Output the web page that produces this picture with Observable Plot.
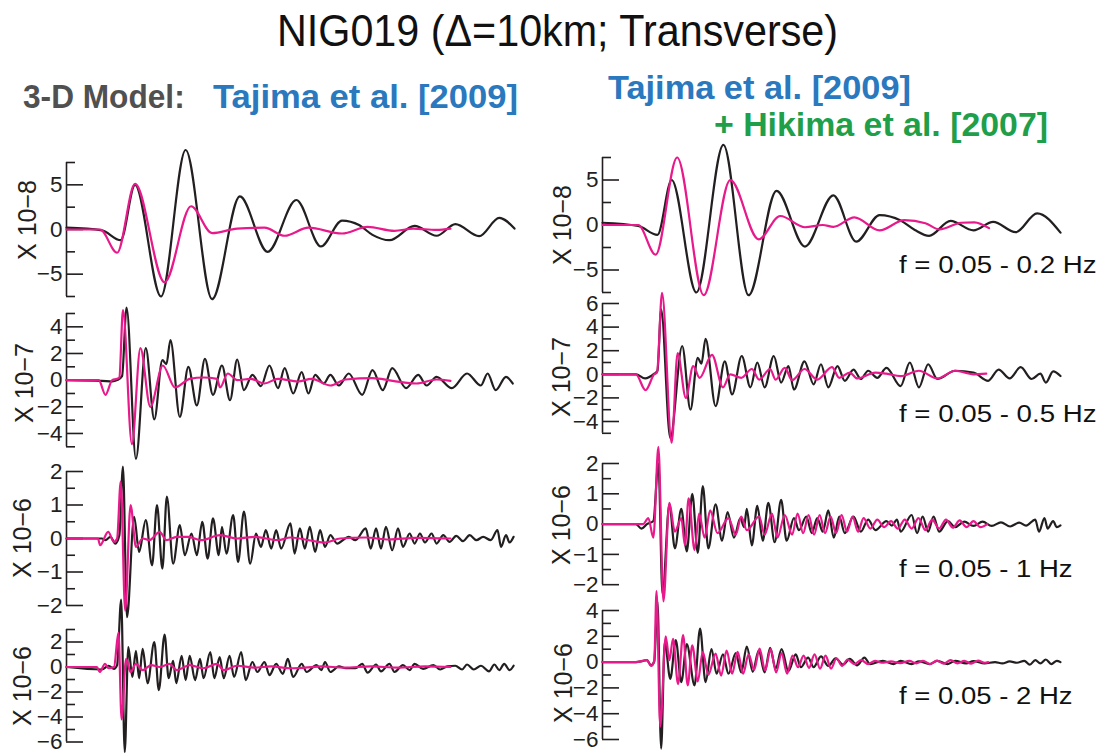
<!DOCTYPE html>
<html>
<head>
<meta charset="utf-8">
<script src="https://cdn.jsdelivr.net/npm/d3@7"></script>
<script src="https://cdn.jsdelivr.net/npm/@observablehq/plot@0.6"></script>
<style>
  html, body { margin: 0; padding: 0; background: #fff; }
  #page { position: relative; width: 1106px; height: 753px; overflow: hidden; background: #fff;
          font-family: "Liberation Sans", Arial, Helvetica, sans-serif; }
  #page svg { position: absolute; }
  .t { position: absolute; white-space: nowrap; line-height: 1; transform-origin: 0 0; }
  .yl { position: absolute; white-space: nowrap; line-height: 1; color: #231f20; }
</style>
</head>
<body>
<div id="page"></div>
<script>
// ---------------- text ----------------
const title = "NIG019 (\u0394=10km; Transverse)";
const modelLabel = "3-D Model:";
const refLeft = "Tajima et al. [2009]";
const refRight1 = "Tajima et al. [2009]";
const refRight2 = "+ Hikima et al. [2007]";
const bandLabels = ["f = 0.05 - 0.2 Hz", "f = 0.05 - 0.5 Hz", "f = 0.05 - 1 Hz", "f = 0.05 - 2 Hz"];
const unitLabels = ["X 10\u22128", "X 10\u22127", "X 10\u22126", "X 10\u22126"];

// ---------------- y domains and ticks (per row) ----------------
const domL = [[-7.5, 7.5], [-5, 5], [-2, 2], [-6, 3]];
const domR = [[-7.5, 7.5], [-5, 6], [-2, 2], [-6, 4]];
const majorL = [[-5, 0, 5], [-4, -2, 0, 2, 4], [-2, -1, 0, 1, 2], [-6, -4, -2, 0, 2]];
const minorL = [[-7.5, -2.5, 2.5, 7.5], [-5, -3, -1, 1, 3, 5], [-1.5, -0.5, 0.5, 1.5], [-5, -3, -1, 1, 3]];
const majorR = [[-5, 0, 5], [-4, -2, 0, 2, 4, 6], [-2, -1, 0, 1, 2], [-6, -4, -2, 0, 2, 4]];
const minorR = [[-7.5, -2.5, 2.5, 7.5], [-5, -3, -1, 1, 3, 5], [-1.5, -0.5, 0.5, 1.5], [-5, -3, -1, 1, 3]];

// ---------------- waveforms [time (s), amplitude] ----------------
// Left column: 3-D model (Tajima et al. 2009)
const L1_black = [[0,0.2],[7.9,-0.1],[12.1,-1.2],[15.3,5.0],[21.1,-7.5],[26.6,8.9],[32.5,-7.8],[38.7,3.7],[44.9,-2.5],[51.3,3.3],[56.8,-1.9],[61.5,1.0],[65.3,0.5],[68.3,-0.6],[72.1,-1.2],[77.7,0.4],[82.6,-0.7],[86.8,0.6],[92.1,-0.75],[96.6,1.3],[100,0.1]];
const L1_pink = [[0,0],[7.5,0],[11.3,-2.6],[15.3,5.1],[21.9,-5.9],[27.8,2.6],[32.5,-0.4],[38.1,0.1],[44.2,0.2],[48.7,-0.7],[54.0,0.2],[61.5,-0.45],[67.2,0.3],[73.2,-0.15],[77.4,0.1],[82.6,-0.05],[85.7,0.1]];

const L2_black = [[0,0],[7.9,-0.05],[10.2,-0.1],[11.3,0],[12.4,0.3],[13.4,5.45],[15.5,-5.9],[17.7,2.4],[19.6,-2.95],[21.4,1.5],[22.3,1.2],[23.2,3.0],[25.3,-2.75],[27.2,1.0],[29.1,-1.9],[30.9,1.6],[32.7,-1.1],[34.7,1.1],[36.5,-1.5],[38.1,1.55],[39.6,-0.75],[41.5,0.4],[43.4,-0.45],[45.3,1.1],[47.2,-0.6],[48.7,0.9],[50.6,-1.0],[52.5,0.6],[54.0,-1.0],[55.5,0.4],[57.4,-0.25],[58.9,0.4],[60.8,-0.4],[63.0,0.5],[66.0,-1.1],[68.3,0.75],[70.6,-0.75],[72.7,0.9],[75.8,-0.6],[78.5,0.4],[80.4,-0.4],[82.6,0.25],[86.0,-0.6],[89.4,0.5],[92.5,-0.4],[94.0,0.5],[95.8,-0.75],[98.1,0.25],[99.6,-0.25]];
const L2_pink = [[0,0],[7.2,0],[8.7,-1.1],[10.2,0],[11.3,0.1],[11.8,0.2],[12.6,5.25],[14.6,-4.8],[16.5,2.4],[18.7,-2.0],[21.5,1.1],[24.2,-0.55],[27.5,0.1],[30.6,0.2],[33.6,0.1],[34.3,-0.55],[36.0,0.5],[38.1,0.0],[41.1,0.1],[44.2,-0.25],[47.2,0.1],[51.7,-0.1],[54.7,0.1],[58.9,-0.4],[62.3,0.05],[68.3,0.15],[72.8,-0.05],[78.1,-0.25],[82.6,0.05],[85.7,-0.05]];

const L3_black = [[0,0],[7.9,0],[8.7,-0.05],[9.8,0.05],[10.9,-0.15],[11.8,0.1],[12.6,2.15],[13.5,-2.35],[15.1,0.65],[16.2,-0.4],[17.7,0.55],[19.1,-0.8],[20.2,1.0],[21.4,-0.9],[22.4,1.25],[23.8,-0.75],[25.3,0.4],[26.4,-0.5],[27.9,0.15],[29.1,-0.5],[30.3,0.5],[31.5,-0.6],[32.7,0.6],[34.0,-0.5],[34.7,0.35],[35.7,-0.45],[37.2,0.7],[38.3,-0.7],[39.6,0.8],[41.0,-0.75],[42.3,0.15],[43.4,-0.25],[44.5,0.25],[45.7,-0.3],[46.8,0.25],[47.9,-0.3],[50.0,0.45],[50.9,-0.45],[52.1,0.3],[53.2,-0.3],[54.3,0.35],[55.5,-0.4],[56.6,0.25],[57.7,-0.25],[58.9,0.1],[60.4,-0.15],[63.0,0.05],[64.5,-0.05],[66.8,0.3],[67.9,-0.3],[69.1,0.3],[70.2,-0.3],[71.3,0.35],[72.7,-0.35],[74.0,0.3],[75.1,-0.25],[76.6,0.15],[77.7,-0.15],[78.9,0.15],[80.0,-0.12],[81.5,0.15],[82.6,-0.15],[84.1,0.1],[85.5,-0.1],[87.0,0.08],[88.5,-0.08],[90.0,0.1],[91.5,-0.05],[93.0,0.05],[94.7,-0.05],[96.2,0.25],[97.0,-0.25],[98.1,0.1],[98.9,-0.12],[99.8,0.05]];
const L3_pink = [[0,0],[7.0,0],[7.5,-0.2],[9.3,0.2],[10.6,-0.1],[11.3,0],[12.1,1.7],[13.1,-2.15],[14.3,1.0],[15.5,-0.25],[17.0,0.0],[18.5,-0.05],[20.8,0.2],[22.3,-0.05],[24.6,0.05],[27.2,0.05],[30.0,-0.05],[34.3,0.1],[38.1,0.0],[42.0,0.05],[47.2,-0.05],[50.0,0.03],[57.7,-0.12],[61.1,0.0],[66.8,0.03],[72.0,-0.03],[78.0,0.02],[85.7,0.0]];

const L4_black = [[0,0],[7.9,-0.2],[9.4,0.1],[10.6,-0.15],[11.3,0.15],[12.2,5.4],[13.0,-6.8],[13.8,1.6],[14.7,-0.8],[15.5,1.3],[16.2,-0.9],[17.0,1.45],[18.1,-1.3],[19.6,2.0],[20.6,-1.85],[21.9,2.6],[22.8,-0.9],[23.8,0.5],[24.5,-1.3],[25.7,0.9],[26.6,-1.05],[27.5,0.9],[28.7,-1.05],[29.8,0.65],[30.6,-0.9],[32.1,1.2],[33.0,-0.9],[34.2,0.8],[35.1,-0.9],[36.4,0.9],[37.4,-0.8],[39.0,1.2],[40.0,-1.05],[41.5,0.4],[42.6,-0.4],[44.2,0.4],[45.3,-0.65],[46.8,0.25],[48.3,-0.55],[49.4,0.65],[50.6,-0.8],[52.5,0.25],[53.6,-0.4],[55.8,0.15],[56.9,-0.25],[57.7,0.4],[58.9,-0.4],[60.8,0.05],[62.3,-0.1],[64.5,-0.1],[66.0,0.25],[67.2,-0.45],[69.1,0.2],[70.2,-0.35],[72.1,0.25],[73.2,-0.4],[75.1,0.15],[76.6,-0.25],[77.7,0.25],[79.6,-0.15],[81.9,0.15],[83.4,-0.2],[85.0,0.05],[86.8,0.1],[88.3,-0.2],[89.4,0.2],[90.9,-0.2],[92.5,0.1],[94.3,-0.35],[95.5,0.2],[96.6,-0.25],[97.7,0.25],[98.9,-0.25],[99.8,0.1]];
const L4_pink = [[0,0],[6.8,0],[7.4,-0.4],[8.6,0.25],[9.4,-0.1],[10.6,0.0],[11.6,2.75],[12.3,-4.2],[13.3,0.65],[14.3,-0.4],[15.5,0.25],[17.0,-0.25],[18.9,0.15],[20.8,0.0],[23.0,0.25],[24.6,-0.25],[27.5,0.15],[30.6,-0.1],[33.6,0.25],[35.1,-0.25],[38.1,0.1],[41.9,-0.05],[45.7,0.05],[50.0,-0.1],[53.2,-0.05],[57.0,0.05],[62.0,-0.05],[68.0,0.05],[74.0,-0.05],[80.0,0.05],[85.7,0.0]];

// Right column: Tajima et al. 2009 + Hikima et al. 2007
const R1_black = [[0,0.25],[7.8,-0.1],[12.0,-1.1],[15.1,5.0],[20.5,-7.5],[26.4,8.9],[31.9,-7.8],[38.0,3.8],[44.2,-2.4],[50.4,3.3],[55.4,-1.85],[60.5,1.1],[65.1,0.5],[68.2,-0.55],[71.3,-1.2],[76.0,0.45],[81.0,-0.6],[85.3,0.35],[90.2,-0.8],[94.9,1.3],[100,-0.85]];
const R1_pink = [[0,0],[7.8,0],[11.6,-3.3],[16.3,7.5],[22.1,-7.8],[27.9,5.0],[34.1,-1.6],[38.8,1.0],[44.2,-0.25],[48.1,0.0],[50.4,-0.2],[55.0,0.85],[60.5,-0.6],[65.9,0.55],[70.5,0.2],[73.6,-0.5],[78.3,0.25],[81.2,0.3],[84.4,-0.35]];

const R2_black = [[0,0],[7.3,0],[9.3,-0.35],[11.3,0.05],[12.0,0.3],[12.8,5.5],[14.8,-5.4],[17.4,2.4],[19.2,-3.0],[20.8,1.4],[21.6,0.9],[22.5,3.0],[24.7,-2.7],[26.7,1.1],[28.3,-1.7],[30.4,1.55],[32.3,-1.1],[33.8,1.0],[35.4,-1.1],[37.4,1.55],[39.0,-0.7],[40.6,0.7],[41.8,-1.3],[44.1,1.1],[46.1,-0.85],[47.7,0.85],[49.3,-1.1],[51.3,0.7],[52.9,-0.55],[54.8,0.4],[56.4,-0.4],[58.0,0.3],[60.0,-0.3],[62.0,0.55],[65.1,-1.0],[67.1,1.0],[69.1,-1.1],[71.1,0.85],[73.1,-0.4],[77.0,0.3],[81.0,0.15],[84.2,-0.55],[86.5,0.4],[88.9,-0.35],[91.3,0.6],[93.7,-0.4],[95.6,0.05],[96.8,-0.7],[98.4,0.25],[100,-0.15]];
const R2_pink = [[0,0],[7.3,0],[9.4,-1.35],[11.3,0],[11.9,0.15],[13.0,6.9],[15.1,-5.8],[16.4,1.8],[18.2,-2.0],[19.8,0.7],[21.2,-0.3],[23.9,1.65],[26.3,-1.1],[27.9,0.0],[30.3,-0.3],[32.6,0.45],[34.2,-0.45],[36.6,0.45],[37.8,-0.45],[39.8,0.55],[41.4,-0.5],[44.1,0.45],[46.9,-0.45],[50.1,0.6],[51.7,-0.3],[54.0,0.15],[55.6,-0.35],[59.6,0.15],[62.0,0.05],[65.1,-0.15],[69.1,0.3],[73.1,-0.35],[77.0,0.3],[81.0,0.0],[83.8,0.05]];

const R3_black = [[0,0],[7.3,0],[8.5,-0.15],[9.7,0],[11.1,0.1],[12.2,2.0],[13.1,-2.3],[14.6,0.65],[15.8,-0.8],[17.2,0.5],[18.4,-0.9],[19.6,1.0],[20.8,-0.95],[21.9,1.25],[23.1,-0.8],[24.7,0.65],[26.1,-0.55],[27.3,0.4],[28.7,-0.45],[30.1,0.2],[30.9,-0.1],[31.5,0.5],[32.6,-0.7],[33.8,0.6],[35.0,-0.55],[36.2,0.7],[37.6,-0.6],[39.0,0.8],[40.2,-0.55],[41.8,0.2],[42.9,-0.2],[44.5,0.25],[45.7,-0.3],[46.9,0.2],[48.1,-0.25],[49.3,0.45],[50.5,-0.45],[51.7,0.25],[52.9,-0.3],[54.8,0.25],[56.4,-0.25],[58.0,0.15],[59.6,-0.2],[62.0,0.1],[63.2,-0.05],[64.3,0.15],[65.1,-0.25],[67.5,0.3],[68.7,-0.3],[69.9,0.25],[71.1,-0.25],[72.3,0.25],[73.5,-0.25],[75.4,0.1],[77.0,-0.1],[79.0,0.08],[81.0,-0.06],[83.0,0.08],[85.0,-0.06],[87.0,0.06],[89.0,-0.08],[91.0,0.05],[92.5,-0.05],[94.5,0.15],[95.3,-0.25],[96.5,0.2],[97.2,-0.15],[98.4,0.1],[99.2,-0.1],[100,-0.04]];
const R3_pink = [[0,0],[7.3,0],[8.9,0.0],[10.0,0.2],[11.1,-0.45],[12.2,2.55],[13.3,-2.55],[14.6,0.7],[15.8,-0.25],[17.2,0.2],[18.0,-0.7],[18.8,0.85],[20.1,-0.85],[21.1,0.35],[22.3,-0.45],[23.5,0.45],[25.1,-0.3],[27.5,0.2],[29.1,-0.35],[30.3,0.25],[31.5,-0.2],[34.2,0.25],[35.4,-0.35],[37.0,0.35],[38.2,-0.45],[39.8,0.3],[41.4,-0.35],[42.6,0.35],[43.8,-0.3],[45.0,0.3],[46.2,-0.35],[47.4,0.3],[48.6,-0.3],[49.8,0.25],[51.0,-0.3],[52.2,0.3],[53.4,-0.25],[54.6,0.25],[55.8,-0.25],[57.0,0.2],[58.5,-0.15],[60.0,0.15],[61.5,-0.1],[63.0,0.1],[64.5,-0.15],[66.0,0.15],[67.5,-0.15],[69.0,0.2],[70.5,-0.2],[72.0,0.15],[73.5,-0.15],[75.0,0.15],[76.5,-0.12],[78.0,0.12],[79.5,-0.1],[81.0,0.1],[82.5,-0.1],[84.0,0.0]];

const R4_black = [[0,0],[7.3,0],[8.9,0.1],[9.7,0.15],[10.6,-0.25],[11.3,0.05],[12.0,4.7],[12.8,-6.7],[13.6,1.55],[14.8,-1.3],[16.0,1.7],[17.2,-1.55],[18.4,1.4],[20.1,-1.8],[21.3,2.6],[22.5,-1.55],[23.8,1.0],[24.9,-0.9],[26.3,0.6],[27.5,-0.9],[29.1,0.7],[30.3,-0.8],[31.5,1.2],[32.8,-0.75],[34.1,0.9],[35.4,-0.8],[36.6,1.1],[37.8,-0.5],[39.1,1.0],[40.6,-0.7],[42.2,0.6],[43.3,-0.4],[44.9,0.35],[46.1,-0.4],[47.7,0.45],[49.3,-0.3],[50.9,0.3],[52.5,-0.2],[54.0,0.25],[55.6,-0.25],[57.2,0.35],[58.4,-0.15],[61.2,0.1],[63.6,-0.15],[65.1,0.1],[67.5,-0.15],[69.1,0.05],[71.5,-0.15],[73.1,0.1],[75.4,-0.15],[77.0,0.1],[79.4,-0.1],[81.0,0.08],[83.4,-0.1],[85.7,0.0],[87.3,-0.1],[88.9,0.05],[90.5,-0.05],[92.1,0.1],[93.3,-0.2],[94.5,0.15],[95.6,-0.1],[96.8,0.2],[98.0,-0.15],[99.2,0.1],[100,0]];
const R4_pink = [[0,0],[7.3,0],[9.7,0.15],[10.6,-0.3],[11.3,0.1],[11.8,5.5],[12.6,-5.0],[13.8,2.0],[14.6,0.15],[15.4,1.8],[16.5,-1.7],[17.6,2.1],[18.6,-1.8],[19.6,1.3],[20.8,-1.5],[21.9,0.8],[23.1,-1.0],[24.7,0.65],[25.9,-1.05],[27.1,0.9],[28.3,-0.9],[29.5,0.8],[30.7,-0.9],[31.9,0.6],[33.1,-0.6],[34.3,1.05],[35.5,-0.65],[36.7,1.0],[37.9,-0.8],[39.1,0.7],[40.3,-0.9],[41.5,0.5],[42.7,-0.4],[43.9,0.5],[45.1,-0.45],[46.3,0.6],[47.5,-0.5],[48.7,0.5],[49.9,-0.5],[51.1,0.3],[52.3,-0.3],[53.5,0.2],[55.0,-0.15],[56.5,0.15],[58.0,-0.15],[59.5,0.1],[61.0,-0.05],[63.0,0.05],[65.0,-0.08],[67.0,0.1],[68.5,-0.1],[70.0,0.1],[71.5,-0.15],[73.0,0.12],[74.5,-0.12],[76.0,0.15],[77.5,-0.1],[79.0,0.1],[80.5,-0.12],[82.0,0.12],[83.5,-0.05],[84.2,0.0]];

// ---------------- drawing ----------------
const INK = "#231f20";
const PINK = "#e8198b";
const page = document.getElementById("page");
const minusFmt = d => (d < 0 ? "\u2212" + Math.abs(d) : String(d));

// layout (page pixels)
const colL = {left: 0, ml: 66, width: 514};
const colR = {left: 540, ml: 62, width: 520};
const rowsL = [{top: 162.3, h: 134}, {top: 313.3, h: 133.3}, {top: 471.3, h: 134}, {top: 628.5, h: 112.5}];
const rowsR = [{top: 156.5, h: 135}, {top: 302.5, h: 129.8}, {top: 462.5, h: 121.2}, {top: 610.1, h: 129}];

function panel(col, row, domain, major, minor, black, pink) {
  const svg = Plot.plot({
    width: col.width,
    height: row.h,
    marginLeft: col.ml, marginRight: 0, marginTop: 0, marginBottom: 0,
    style: {background: "transparent", overflow: "visible",
            fontFamily: "'Liberation Sans', Arial, Helvetica, sans-serif", color: INK},
    x: {domain: [0, 100], axis: null},
    y: {domain},
    marks: [
      Plot.ruleX([0], {stroke: INK, strokeWidth: 1.6}),
      Plot.axisY(minor, {tickSize: -9, fill: "none", stroke: INK, strokeWidth: 1.6, tickFormat: () => "", label: null}),
      Plot.axisY(major, {tickSize: -17, fill: "none", stroke: INK, strokeWidth: 1.6, tickFormat: () => "", label: null}),
      Plot.axisY(major, {tickSize: 0, tickPadding: 4, stroke: "none", fill: INK, fontSize: 22.5, tickFormat: minusFmt, label: null}),
      Plot.line(black, {x: d => d[0], y: d => d[1], stroke: INK, strokeWidth: 2.2, curve: "monotone-x"}),
      Plot.line(pink, {x: d => d[0], y: d => d[1], stroke: PINK, strokeWidth: 2.2, curve: "monotone-x"})
    ]
  });
  svg.style.position = "absolute";
  svg.style.left = col.left + "px";
  svg.style.top = row.top + "px";
  svg.style.maxWidth = "none";
  page.appendChild(svg);
}

const blacksL = [L1_black, L2_black, L3_black, L4_black];
const pinksL = [L1_pink, L2_pink, L3_pink, L4_pink];
const blacksR = [R1_black, R2_black, R3_black, R4_black];
const pinksR = [R1_pink, R2_pink, R3_pink, R4_pink];
for (let i = 0; i < 4; i++) {
  panel(colL, rowsL[i], domL[i], majorL[i], minorL[i], blacksL[i], pinksL[i]);
  panel(colR, rowsR[i], domR[i], majorR[i], minorR[i], blacksR[i], pinksR[i]);
}

// text helpers
function addText(str, o) {
  const d = document.createElement("div");
  d.className = "t";
  d.textContent = str;
  d.style.left = o.x + "px";
  d.style.top = (o.baseline - 0.8465 * o.size) + "px";
  d.style.fontSize = o.size + "px";
  d.style.fontWeight = o.weight || 400;
  d.style.color = o.color || INK;
  page.appendChild(d);
  if (o.width) {
    const w = d.getBoundingClientRect().width;
    d.style.transform = "scaleX(" + (o.width / w) + ")";
  }
  return d;
}
function addYLabel(str, cx, cy) {
  const d = document.createElement("div");
  d.className = "yl";
  d.textContent = str;
  d.style.fontSize = "25px";
  d.style.left = cx + "px";
  d.style.top = cy + "px";
  d.style.transform = "translate(-50%, -50%) rotate(-90deg)";
  page.appendChild(d);
}

addText(title, {x: 277, baseline: 46.7, size: 44, color: "#111", width: 561});
addText(modelLabel, {x: 23.3, baseline: 108.3, size: 32.6, weight: 700, color: "#505050", width: 161.7});
addText(refLeft, {x: 213.3, baseline: 108.3, size: 32.6, weight: 700, color: "#2a78be", width: 305});
addText(refRight1, {x: 608, baseline: 99.7, size: 32.6, weight: 700, color: "#2a78be", width: 303});
addText(refRight2, {x: 714, baseline: 136.7, size: 32.6, weight: 700, color: "#1f9f4a", width: 334});

const bandBase = [274, 423.3, 578.3, 705];
const bandWidth = [197.5, 197.5, 173.6, 173.6];
bandLabels.forEach((s, i) => addText(s, {x: 899, baseline: bandBase[i], size: 23.5, color: "#111", width: bandWidth[i]}));

const ylL = [[27, 220], [23.7, 383], [22, 538], [22, 686]];
const ylR = [[561.7, 225], [560.8, 377], [560.8, 525], [562.6, 683]];
unitLabels.forEach((s, i) => { addYLabel(s, ylL[i][0], ylL[i][1]); addYLabel(s, ylR[i][0], ylR[i][1]); });
</script>
</body>
</html>
